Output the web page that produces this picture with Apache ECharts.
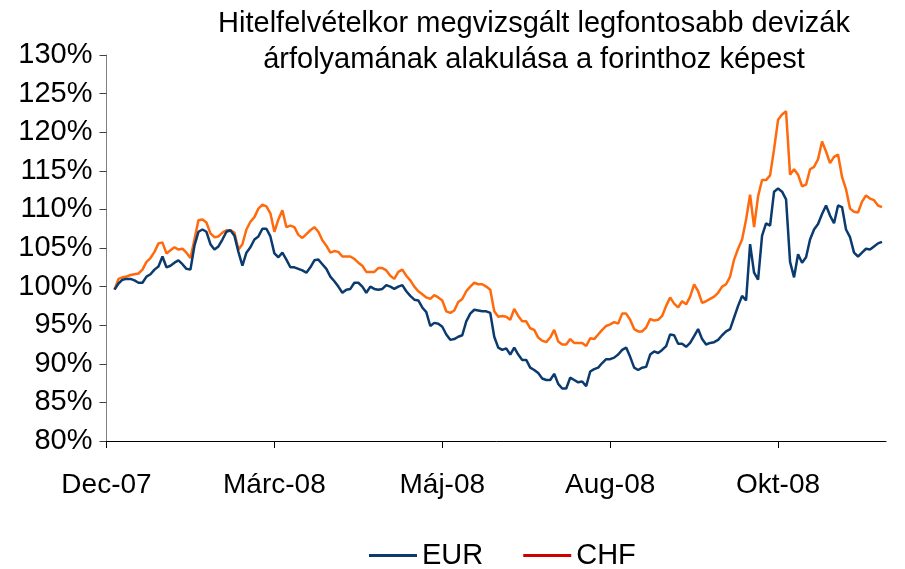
<!DOCTYPE html>
<html>
<head>
<meta charset="utf-8">
<script src="https://cdn.jsdelivr.net/npm/echarts@6/dist/echarts.min.js"></script>
<style>
html,body{margin:0;padding:0;background:#fff;}
#chart{width:905px;height:569px;}
</style>
</head>
<body>
<div id="chart"></div>
<script>
const titleLines = ['Hitelfelvételkor megvizsgált legfontosabb devizák', 'árfolyamának alakulása a forinthoz képest'];
const tickLabels = ['Dec-07', 'Márc-08', 'Máj-08', 'Aug-08', 'Okt-08'];
const labelEvery = 42;
const pointCount = 196;
const seriesNames = ['EUR', 'CHF'];

const eurValues = [null, null,
  99.6, 100.4, 100.9, 101.0, 101.0, 100.8, 100.5, 100.5, 101.3, 101.6, 102.2, 102.6, 103.9, 102.5, 102.7, 103.1, 103.4, 102.9, 102.3, 102.2,
  105.3, 107.1, 107.4, 107.1, 105.5, 104.8, 105.2, 106.1, 107.1, 107.3, 106.6, 104.5, 102.7, 104.4, 105.1, 106.1, 106.5, 107.5, 107.5, 106.5,
  104.3, 103.8, 104.4, 103.5, 102.5, 102.5, 102.3,
  102.1, 101.8, 102.5, 103.4, 103.5, 102.9, 102.3, 101.3, 100.7, 100.0, 99.2, 99.6, 99.7, 100.5, 100.5, 100.0, 99.2, 100.0, 99.7, 99.6,
  99.7, 100.2, 100.0, 99.7, 100.0, 100.2, 99.4, 98.8, 98.3, 98.2, 97.3, 96.7, 94.9, 95.3, 95.2, 94.8, 93.8, 93.1, 93.2, 93.5, 93.7,
  95.5, 96.5, 97.0, 96.9, 96.8, 96.8, 96.6, 93.5, 92.1, 91.8, 92.0, 91.2, 92.1,
  91.2, 90.5, 90.5, 89.5, 89.2, 88.8, 88.1, 87.9, 87.9, 88.7, 87.4, 86.8, 86.8, 88.2, 87.9, 87.6, 87.7, 87.1, 89.0, 89.3, 89.5,
  90.1, 90.6, 90.6, 90.8, 91.2, 91.8, 92.1, 90.9, 89.5, 89.2, 89.5, 89.6, 91.2,
  91.6, 91.4, 91.8, 92.3, 93.8, 93.7, 92.6, 92.6, 92.2, 92.7, 93.6, 94.5, 93.2, 92.5, 92.7, 92.8, 93.1, 93.7, 94.2, 94.5,
  96.0, 97.5, 98.8, 98.2, 105.5, 101.8, 100.9, 106.6, 108.2, 107.9, 112.3, 112.7, 112.3, 111.3,
  103.2, 101.2, 104.2, 103.1, 103.8, 106.1, 107.4, 108.1, 109.4, 110.5, 109.2, 108.2, 110.5, 110.3, 107.4, 106.4,
  104.4, 103.9, 104.4, 104.9, 104.8, 105.2, 105.6, 105.8, null];

const chfValues = [null, null,
  99.6, 101.0, 101.2, 101.3, 101.5, 101.6, 101.7, 102.2, 103.2, 103.7, 104.5, 105.6, 105.7, 104.3, 104.7, 105.1, 104.8, 104.9, 104.4, 103.7,
  106.1, 108.6, 108.7, 108.3, 106.9, 106.4, 106.5, 107.0, 107.3, 107.3, 107.0, 104.8, 105.5, 107.4, 108.4, 109.0, 110.1, 110.6, 110.4, 109.5,
  107.1, 108.7, 109.9, 107.7, 107.9, 107.7, 106.7,
  106.3, 106.8, 107.3, 107.7, 107.1, 106.0, 105.3, 104.4, 104.6, 104.5, 103.9, 103.9, 103.9, 103.6, 103.1, 102.7, 101.9, 101.9, 101.9, 102.4,
  102.4, 102.1, 101.4, 101.0, 101.9, 102.2, 101.4, 100.8, 100.0, 99.4, 99.0, 98.6, 98.4, 98.9, 98.6, 98.2, 96.8, 96.6, 96.9, 98.0, 98.4,
  99.4, 100.0, 100.5, 100.3, 100.3, 100.0, 99.6, 96.8, 96.1, 96.2, 96.1, 95.7, 97.1,
  96.2, 95.5, 95.5, 94.6, 94.4, 93.4, 93.0, 92.8, 93.4, 94.4, 92.9, 92.5, 92.5, 93.2, 92.7, 92.7, 92.7, 92.3, 93.3, 93.2, 93.8,
  94.4, 94.9, 95.1, 95.4, 95.2, 96.5, 96.5, 95.7, 94.5, 94.2, 94.2, 94.7, 95.8,
  95.6, 95.7, 96.2, 97.5, 98.6, 97.8, 97.3, 98.1, 97.7, 98.7, 100.3, 99.4, 97.9, 98.1, 98.4, 98.7, 99.2, 100.0, 100.3, 101.3,
  103.5, 104.9, 106.1, 108.7, 111.9, 107.7, 111.7, 113.8, 113.8, 114.4, 117.8, 121.6, 122.3, 122.7,
  114.5, 115.2, 114.5, 113.0, 113.2, 115.2, 115.5, 116.5, 118.8, 117.5, 116.0, 116.8, 117.1, 114.2, 112.6, 110.1,
  109.7, 109.6, 111.0, 111.8, 111.4, 111.2, 110.5, 110.3, null];

const yTicks = { min: 80, max: 130, step: 5 };

const categories = [];
for (let i = 0; i < pointCount; i++) categories.push(String(i));

const eurColor = '#0b3a6e';
const chfColor = '#ff6a0d';
const chfLegendColor = '#d00000';
const font = '"Liberation Sans", Arial, sans-serif';

const chart = echarts.init(document.getElementById('chart'), null, { renderer: 'canvas' });
const showTick = (idx) => idx % labelEvery === 0;

chart.setOption({
  animation: false,
  backgroundColor: '#ffffff',
  title: {
    text: titleLines.join('\n'),
    left: 529,
    top: 1,
    textAlign: 'center',
    textStyle: { fontFamily: font, fontSize: 29, fontWeight: 'normal', color: '#000', lineHeight: 36 }
  },
  legend: {
    left: 364,
    top: 536,
    itemWidth: 48,
    itemHeight: 3,
    itemGap: 40,
    icon: 'rect',
    textStyle: { fontFamily: font, fontSize: 29, color: '#000' },
    data: [
      { name: seriesNames[0], itemStyle: { color: eurColor } },
      { name: seriesNames[1], itemStyle: { color: chfLegendColor } }
    ]
  },
  grid: { left: 106.5, right: 19, top: 55, bottom: 128, containLabel: false },
  xAxis: {
    type: 'category',
    data: categories,
    boundaryGap: false,
    axisLine: { show: true, lineStyle: { color: '#000', width: 1 } },
    axisTick: { show: true, interval: (idx) => showTick(idx), length: 7, inside: false, lineStyle: { color: '#000' } },
    axisLabel: {
      interval: (idx) => showTick(idx),
      formatter: (val, idx) => (showTick(idx) ? tickLabels[idx / labelEvery] : ''),
      fontFamily: font, fontSize: 28, color: '#000', margin: 30
    },
    splitLine: { show: false }
  },
  yAxis: {
    type: 'value',
    min: yTicks.min,
    max: yTicks.max,
    interval: yTicks.step,
    axisLine: { show: true, lineStyle: { color: '#808080', width: 1 } },
    axisTick: { show: true, length: 7, inside: false, lineStyle: { color: '#404040' } },
    axisLabel: { formatter: '{value}%', fontFamily: font, fontSize: 29, color: '#000', margin: 14 },
    splitLine: { show: false }
  },
  series: [
    { name: seriesNames[0], type: 'line', data: eurValues, showSymbol: false, symbol: 'none', connectNulls: false,
      lineStyle: { color: eurColor, width: 2.5 }, itemStyle: { color: eurColor }, z: 3 },
    { name: seriesNames[1], type: 'line', data: chfValues, showSymbol: false, symbol: 'none', connectNulls: false,
      lineStyle: { color: chfColor, width: 2.5 }, itemStyle: { color: chfColor }, z: 2 }
  ]
});
</script>
</body>
</html>
